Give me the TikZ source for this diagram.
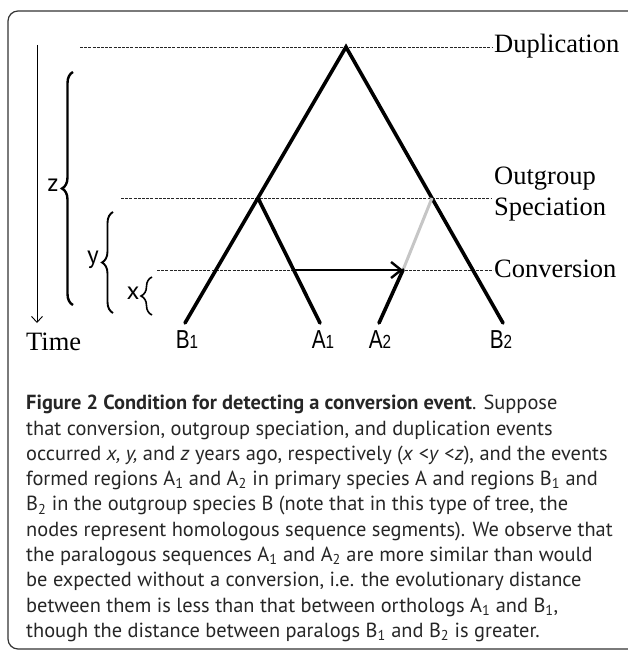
\documentclass[tikz,border=0pt]{standalone}
\usepackage{fontspec}
\usepackage{graphicx}
\setmainfont{Liberation Serif}
\newfontfamily\capfont{PT Sans}
\newfontfamily\leaffont{Liberation Sans}
\usetikzlibrary{arrows.meta,decorations.pathreplacing}

\tikzset{
  branch/.style={line width=3.6pt, line cap=round, line join=miter},
  eventline/.style={line width=0.9pt, dash pattern=on 3pt off 1.2pt, black!85},
  eventlabel/.style={anchor=base west, inner sep=0pt, font=\fontsize{26.5}{31}\selectfont},
  leaflabel/.style={anchor=base, inner sep=0pt, font=\leaffont\fontsize{26}{28}\selectfont},
  agelabel/.style={inner sep=0pt, font=\capfont\fontsize{25}{28}\selectfont},
  span/.style={decorate, decoration={brace, amplitude=#1}},
}
\newcommand{\leafname}[2]{\scalebox{0.8}[1]{#1{\fontsize{19}{20}\selectfont #2}}}

\begin{document}
\begin{tikzpicture}[x=1pt, y=-1pt]
    \useasboundingbox (0,0) rectangle (627,650);
    \draw [line width=1.2pt, black!80, rounded corners=10pt] (8,11) rectangle (660,649);

    % time axis
    \coordinate (tstart) at (37,45);
    \coordinate (tend) at (37,323);
    \draw [line width=0.9pt, -{Straight Barb[length=6pt,width=11pt]}] (tstart) -- (tend);
    \node [anchor=base west, inner sep=0pt, font=\fontsize{26.5}{31}\selectfont] (time) at (26,350) {Time};

    % tree points
    \coordinate (dup) at (346,47);
    \coordinate (spec1) at (258,198);
    \coordinate (spec2) at (432,198);
    \coordinate (convsrc) at (294,270);
    \coordinate (conv) at (403,270);
    \coordinate (B1) at (185,323);
    \coordinate (A1) at (320,323);
    \coordinate (A2) at (379,323);
    \coordinate (B2) at (503,323);

    % event lines
    \coordinate (dupL) at (80,47);
    \coordinate (dupR) at (492,47);
    \coordinate (outL) at (121,198);
    \coordinate (outR) at (492,198);
    \coordinate (convL) at (157,270);
    \coordinate (convR) at (493,270);
    \draw [eventline] (dupL) -- (dupR);
    \draw [eventline] (outL) -- (outR);
    \draw [eventline] (convL) -- (convR);
    \node [eventlabel] (duptext) at (494,53) {Duplication};
    \node [eventlabel] (outtext) at (494,184) {Outgroup};
    \node [eventlabel] (spectext) at (494,215) {Speciation};
    \node [eventlabel] (convtext) at (494,277) {Conversion};

    % branches
    \draw [branch] (B1) -- (dup) -- (B2);
    \draw [branch] (spec1) -- (A1);
    \draw [gray!45, line width=3pt] (spec2) -- (conv);
    \draw [branch] (conv) -- (A2);
    \draw [line width=2.4pt, -{Straight Barb[length=10pt,width=16pt]}] (convsrc) -- (conv);

    \node [leaflabel] (b1) at (187,348) {\leafname{B}{1}};
    \node [leaflabel] (a1) at (323,348) {\leafname{A}{1}};
    \node [leaflabel] (a2) at (380,348) {\leafname{A}{2}};
    \node [leaflabel] (b2) at (501,348) {\leafname{B}{2}};

    % ages
    \coordinate (zbot) at (73,305);
    \coordinate (ztop) at (73,72);
    \coordinate (ybot) at (113,313);
    \coordinate (ytop) at (113,212);
    \coordinate (xbot) at (152,315);
    \coordinate (xtop) at (152,277);
    \draw [span=11pt, line width=2.4pt] (zbot) -- (ztop);
    \draw [span=11pt, line width=1.9pt] (ybot) -- (ytop);
    \draw [span=11pt, line width=1.6pt] (xbot) -- (xtop);
    \node [agelabel] (zlabel) at (53,185) {z};
    \node [agelabel] (ylabel) at (93,260) {y};
    \node [agelabel] (xlabel) at (133,293) {x};

    % caption
    \node [anchor=north west, align=left, inner sep=0pt, black!85,
           font=\capfont\fontsize{20.4}{25.3}\selectfont] (caption) at (26,395) {%
      \textbf{Figure 2 Condition for detecting a conversion event}. Suppose\\
      that conversion, outgroup speciation, and duplication events\\
      occurred \textit{x, y,} and \textit{z} years ago, respectively (\textit{x} <\textit{y} <\textit{z}), and the events\\
      formed regions A\textsubscript{1} and A\textsubscript{2} in primary species A and regions B\textsubscript{1} and\\
      B\textsubscript{2} in the outgroup species B (note that in this type of tree, the\\
      nodes represent homologous sequence segments). We observe that\\
      the paralogous sequences A\textsubscript{1} and A\textsubscript{2} are more similar than would\\
      be expected without a conversion, i.e. the evolutionary distance\\
      between them is less than that between orthologs A\textsubscript{1} and B\textsubscript{1},\\
      though the distance between paralogs B\textsubscript{1} and B\textsubscript{2} is greater.};
\end{tikzpicture}
\end{document}
